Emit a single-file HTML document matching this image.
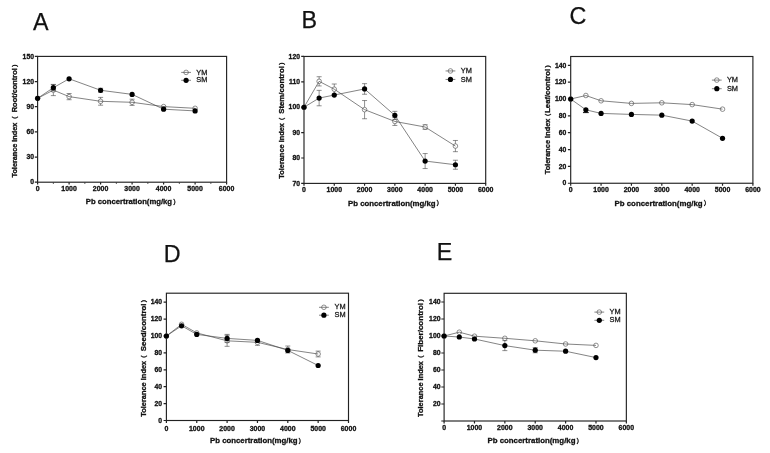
<!DOCTYPE html>
<html lang="en">
<head>
<meta charset="utf-8">
<title>Tolerance index vs Pb concentration</title>
<style>
html,body{margin:0;padding:0;background:#fff;}
body{width:770px;height:453px;overflow:hidden;}
svg{display:block;will-change:transform;filter:blur(.35px);}
text{font-family:"Liberation Sans","Noto Sans CJK SC",sans-serif;fill:#111;}
.ttl{font-size:23.3px;stroke:#111;stroke-width:.25px;}
.tk{font-size:7.6px;font-weight:bold;stroke:#111;stroke-width:.32px;}
.lab{font-weight:bold;stroke:#111;stroke-width:.3px;}
.fp{font-size:6.4px;font-weight:normal;stroke:#111;stroke-width:.4px;fill:#111;}
.lg{font-size:7.4px;fill:#111;stroke:#222;stroke-width:.28px;}
.frame{fill:none;stroke:#222;stroke-width:1.15;}
.ax{fill:none;stroke:#222;stroke-width:1.2;}
.axm{fill:none;stroke:#333;stroke-width:.8;}
.ln{fill:none;stroke:#4a4a4a;stroke-width:.68;}
.cap{fill:none;stroke:#111;stroke-width:1;}
.eb{fill:none;stroke:#444;stroke-width:.6;}
.o{fill:#fff;stroke:#5c5c5c;stroke-width:.68;}
.s{fill:#000;stroke:none;}
</style>
</head>
<body>
<svg width="770" height="453" viewBox="0 0 770 453">
<rect x="0" y="0" width="770" height="453" fill="#fff"/>
<g class="panel">
<text class="ttl" x="33.1" y="29.8">A</text>
<rect class="frame" x="37.6" y="56.4" width="189" height="125.8"/>
<text class="tk" text-anchor="end" transform="translate(34 184.4) scale(.9 1)">0</text>
<text class="tk" text-anchor="end" transform="translate(34 159.24) scale(.9 1)">30</text>
<text class="tk" text-anchor="end" transform="translate(34 134.08) scale(.9 1)">60</text>
<text class="tk" text-anchor="end" transform="translate(34 108.92) scale(.9 1)">90</text>
<text class="tk" text-anchor="end" transform="translate(34 83.76) scale(.9 1)">120</text>
<text class="tk" text-anchor="end" transform="translate(34 58.6) scale(.9 1)">150</text>
<text class="tk" text-anchor="middle" transform="translate(37.6 190.9) scale(.92 1)">0</text>
<text class="tk" text-anchor="middle" transform="translate(69.1 190.9) scale(.92 1)">1000</text>
<text class="tk" text-anchor="middle" transform="translate(100.6 190.9) scale(.92 1)">2000</text>
<text class="tk" text-anchor="middle" transform="translate(132.1 190.9) scale(.92 1)">3000</text>
<text class="tk" text-anchor="middle" transform="translate(163.6 190.9) scale(.92 1)">4000</text>
<text class="tk" text-anchor="middle" transform="translate(195.1 190.9) scale(.92 1)">5000</text>
<text class="tk" text-anchor="middle" transform="translate(226.6 190.9) scale(.92 1)">6000</text>
<path class="ax" d="M34.8 182.2H37.6M34.8 157.04H37.6M34.8 131.88H37.6M34.8 106.72H37.6M34.8 81.56H37.6M34.8 56.4H37.6M37.6 182.2V184.6M69.1 182.2V184.6M100.6 182.2V184.6M132.1 182.2V184.6M163.6 182.2V184.6M195.1 182.2V184.6M226.6 182.2V184.6"/>
<path class="axm" d="M53.35 182.2V184M84.85 182.2V184M116.35 182.2V184M147.85 182.2V184M179.35 182.2V184M210.85 182.2V184"/>
<text class="lab" x="85.76" y="204.1" style="font-size:7.7px">Pb concertration(mg/kg<tspan class="fp" x="173.17" dy="-0.3">）</tspan></text>
<text class="lab" transform="translate(17.3 177.4) rotate(-90)" style="font-size:7.27px"><tspan x="-0.07" y="0">Tolerance Index</tspan><tspan class="fp" x="54.67" y="-0.3">（</tspan><tspan x="63.12" y="0" style="font-size:7.42px"> Root/control</tspan><tspan class="fp" x="110.53" y="-0.3">）</tspan></text>
<path class="eb" d="M53.35 84.61V95.61M50.85 84.61H55.85M50.85 95.61H55.85M69.1 93.51V99.71M66.6 93.51H71.6M66.6 99.71H71.6M100.6 97.4V105.2M98.1 97.4H103.1M98.1 105.2H103.1M132.1 99.2V105.4M129.6 99.2H134.6M129.6 105.4H134.6"/>
<circle class="o" cx="37.6" cy="98.33" r="2.3"/>
<circle class="o" cx="53.35" cy="90.11" r="2.3"/>
<circle class="o" cx="69.1" cy="96.61" r="2.3"/>
<circle class="o" cx="100.6" cy="101.3" r="2.3"/>
<circle class="o" cx="132.1" cy="102.3" r="2.3"/>
<circle class="o" cx="163.6" cy="106.6" r="2.3"/>
<circle class="o" cx="195.1" cy="108.31" r="2.3"/>
<polyline class="ln" points="37.6,98.33 53.35,90.11 69.1,96.61 100.6,101.3 132.1,102.3 163.6,106.6 195.1,108.31"/>
<path class="eb" d="M53.35 84.41V91.01M50.85 84.41H55.85M50.85 91.01H55.85M100.6 88.28V92.28M98.1 88.28H103.1M98.1 92.28H103.1"/>
<polyline class="ln" points="37.6,98.33 53.35,87.71 69.1,78.79 100.6,90.28 132.1,94.39 163.6,109.2 195.1,110.91"/>
<circle class="s" cx="37.6" cy="98.33" r="2.6"/>
<circle class="s" cx="53.35" cy="87.71" r="2.6"/>
<circle class="s" cx="69.1" cy="78.79" r="2.6"/>
<circle class="s" cx="100.6" cy="90.28" r="2.6"/>
<circle class="s" cx="132.1" cy="94.39" r="2.6"/>
<circle class="s" cx="163.6" cy="109.2" r="2.6"/>
<circle class="s" cx="195.1" cy="110.91" r="2.6"/>
<path class="ln" d="M181.2 80.3H191"/>
<circle class="o" cx="186.1" cy="72.4" r="2.3"/><circle class="s" cx="186.1" cy="80.3" r="2.6"/>
<path class="ln" d="M181.2 72.4H191"/>
<text class="lg" x="196.3" y="74.55">YM</text><text class="lg" x="196.3" y="82.45">SM</text>
</g>
<g class="panel">
<text class="ttl" x="301.4" y="28.2">B</text>
<rect class="frame" x="304" y="56.45" width="181.7" height="126.95"/>
<text class="tk" text-anchor="end" transform="translate(300 185.6) scale(.9 1)">70</text>
<text class="tk" text-anchor="end" transform="translate(300 160.21) scale(.9 1)">80</text>
<text class="tk" text-anchor="end" transform="translate(300 134.82) scale(.9 1)">90</text>
<text class="tk" text-anchor="end" transform="translate(300 109.43) scale(.9 1)">100</text>
<text class="tk" text-anchor="end" transform="translate(300 84.04) scale(.9 1)">110</text>
<text class="tk" text-anchor="end" transform="translate(300 58.65) scale(.9 1)">120</text>
<text class="tk" text-anchor="middle" transform="translate(304 192.45) scale(.92 1)">0</text>
<text class="tk" text-anchor="middle" transform="translate(334.28 192.45) scale(.92 1)">1000</text>
<text class="tk" text-anchor="middle" transform="translate(364.57 192.45) scale(.92 1)">2000</text>
<text class="tk" text-anchor="middle" transform="translate(394.85 192.45) scale(.92 1)">3000</text>
<text class="tk" text-anchor="middle" transform="translate(425.13 192.45) scale(.92 1)">4000</text>
<text class="tk" text-anchor="middle" transform="translate(455.42 192.45) scale(.92 1)">5000</text>
<text class="tk" text-anchor="middle" transform="translate(485.7 192.45) scale(.92 1)">6000</text>
<path class="ax" d="M301.2 183.4H304M301.2 158.01H304M301.2 132.62H304M301.2 107.23H304M301.2 81.84H304M301.2 56.45H304M304 183.4V185.8M334.28 183.4V185.8M364.57 183.4V185.8M394.85 183.4V185.8M425.13 183.4V185.8M455.42 183.4V185.8M485.7 183.4V185.8"/>
<text class="lab" x="348.05" y="205.6" style="font-size:7.8px">Pb concertration(mg/kg<tspan class="fp" x="436.58" dy="-0.3">）</tspan></text>
<text class="lab" transform="translate(283.9 178.7) rotate(-90)" style="font-size:7.4px"><tspan x="-0.07" y="0">Tolerance Index</tspan><tspan class="fp" x="54.72" y="-0.3">（</tspan><tspan x="62.8" y="0" style="font-size:7.79px"> Stem/control</tspan><tspan class="fp" x="113.78" y="-0.3">）</tspan></text>
<path class="eb" d="M319.14 76.73V85.93M316.64 76.73H321.64M316.64 85.93H321.64M334.28 84V94.4M331.78 84H336.78M331.78 94.4H336.78M364.57 100.54V118.74M362.07 100.54H367.07M362.07 118.74H367.07M394.85 117.45V125.45M392.35 117.45H397.35M392.35 125.45H397.35M425.13 124.73V129.33M422.63 124.73H427.63M422.63 129.33H427.63M455.42 140.48V151.68M452.92 140.48H457.92M452.92 151.68H457.92"/>
<circle class="o" cx="304" cy="107.23" r="2.3"/>
<circle class="o" cx="319.14" cy="81.33" r="2.3"/>
<circle class="o" cx="334.28" cy="89.2" r="2.3"/>
<circle class="o" cx="364.57" cy="109.64" r="2.3"/>
<circle class="o" cx="394.85" cy="121.45" r="2.3"/>
<circle class="o" cx="425.13" cy="127.03" r="2.3"/>
<circle class="o" cx="455.42" cy="146.08" r="2.3"/>
<polyline class="ln" points="304,107.23 319.14,81.33 334.28,89.2 364.57,109.64 394.85,121.45 425.13,127.03 455.42,146.08"/>
<path class="eb" d="M319.14 90.39V105.79M316.64 90.39H321.64M316.64 105.79H321.64M364.57 83.65V94.25M362.07 83.65H367.07M362.07 94.25H367.07M394.85 111.35V119.35M392.35 111.35H397.35M392.35 119.35H397.35M425.13 153.56V168.56M422.63 153.56H427.63M422.63 168.56H427.63M455.42 160.24V169.24M452.92 160.24H457.92M452.92 169.24H457.92"/>
<polyline class="ln" points="304,107.23 319.14,98.09 334.28,95.04 364.57,88.95 394.85,115.35 425.13,161.06 455.42,164.74"/>
<circle class="s" cx="304" cy="107.23" r="2.6"/>
<circle class="s" cx="319.14" cy="98.09" r="2.6"/>
<circle class="s" cx="334.28" cy="95.04" r="2.6"/>
<circle class="s" cx="364.57" cy="88.95" r="2.6"/>
<circle class="s" cx="394.85" cy="115.35" r="2.6"/>
<circle class="s" cx="425.13" cy="161.06" r="2.6"/>
<circle class="s" cx="455.42" cy="164.74" r="2.6"/>
<path class="ln" d="M445.55 79.45H455.35"/>
<circle class="o" cx="450.45" cy="70.95" r="2.3"/><circle class="s" cx="450.45" cy="79.45" r="2.6"/>
<path class="ln" d="M445.55 70.95H455.35"/>
<text class="lg" x="460.75" y="73.1">YM</text><text class="lg" x="460.75" y="81.6">SM</text>
</g>
<g class="panel">
<text class="ttl" x="569.6" y="23.6">C</text>
<rect class="frame" x="570.7" y="56.5" width="182.2" height="126.75"/>
<text class="tk" text-anchor="end" transform="translate(566.3 185.45) scale(.9 1)">0</text>
<text class="tk" text-anchor="end" transform="translate(566.3 168.6) scale(.9 1)">20</text>
<text class="tk" text-anchor="end" transform="translate(566.3 151.75) scale(.9 1)">40</text>
<text class="tk" text-anchor="end" transform="translate(566.3 134.9) scale(.9 1)">60</text>
<text class="tk" text-anchor="end" transform="translate(566.3 118.05) scale(.9 1)">80</text>
<text class="tk" text-anchor="end" transform="translate(566.3 101.2) scale(.9 1)">100</text>
<text class="tk" text-anchor="end" transform="translate(566.3 84.35) scale(.9 1)">120</text>
<text class="tk" text-anchor="end" transform="translate(566.3 67.5) scale(.9 1)">140</text>
<text class="tk" text-anchor="middle" transform="translate(570.7 191.5) scale(.92 1)">0</text>
<text class="tk" text-anchor="middle" transform="translate(601.07 191.5) scale(.92 1)">1000</text>
<text class="tk" text-anchor="middle" transform="translate(631.43 191.5) scale(.92 1)">2000</text>
<text class="tk" text-anchor="middle" transform="translate(661.8 191.5) scale(.92 1)">3000</text>
<text class="tk" text-anchor="middle" transform="translate(692.17 191.5) scale(.92 1)">4000</text>
<text class="tk" text-anchor="middle" transform="translate(722.53 191.5) scale(.92 1)">5000</text>
<text class="tk" text-anchor="middle" transform="translate(752.9 191.5) scale(.92 1)">6000</text>
<path class="ax" d="M567.9 183.25H570.7M567.9 166.4H570.7M567.9 149.55H570.7M567.9 132.7H570.7M567.9 115.85H570.7M567.9 99H570.7M567.9 82.15H570.7M567.9 65.3H570.7M570.7 183.25V185.65M601.07 183.25V185.65M631.43 183.25V185.65M661.8 183.25V185.65M692.17 183.25V185.65M722.53 183.25V185.65M752.9 183.25V185.65"/>
<text class="lab" x="614.55" y="205.6" style="font-size:7.85px">Pb concertration(mg/kg<tspan class="fp" x="703.64" dy="-0.3">）</tspan></text>
<text class="lab" transform="translate(550 174.2) rotate(-90)" style="font-size:7.38px"><tspan x="-0.07" y="0">Tolerance Index</tspan><tspan class="fp" x="54.32" y="-0.3">（</tspan><tspan x="61.36" y="0" style="font-size:7.69px">Leaf/control</tspan><tspan class="fp" x="106.38" y="-0.3">）</tspan></text>
<circle class="o" cx="570.7" cy="99" r="2.3"/>
<circle class="o" cx="585.88" cy="95.5" r="2.3"/>
<circle class="o" cx="601.07" cy="100.8" r="2.3"/>
<circle class="o" cx="631.43" cy="103.4" r="2.3"/>
<circle class="o" cx="661.8" cy="102.8" r="2.3"/>
<circle class="o" cx="692.17" cy="104.6" r="2.3"/>
<circle class="o" cx="722.53" cy="109.15" r="2.3"/>
<polyline class="ln" points="570.7,99 585.88,95.5 601.07,100.8 631.43,103.4 661.8,102.8 692.17,104.6 722.53,109.15"/>
<path class="cap" d="M582.98 112.6H588.78"/>
<polyline class="ln" points="570.7,99 585.88,109.8 601.07,113.41 631.43,114.42 661.8,115.15 692.17,121.1 722.53,138.3"/>
<circle class="s" cx="570.7" cy="99" r="2.6"/>
<circle class="s" cx="585.88" cy="109.8" r="2.6"/>
<circle class="s" cx="601.07" cy="113.41" r="2.6"/>
<circle class="s" cx="631.43" cy="114.42" r="2.6"/>
<circle class="s" cx="661.8" cy="115.15" r="2.6"/>
<circle class="s" cx="692.17" cy="121.1" r="2.6"/>
<circle class="s" cx="722.53" cy="138.3" r="2.6"/>
<path class="ln" d="M711.9 88.7H721.7"/>
<circle class="o" cx="716.8" cy="80.1" r="2.3"/><circle class="s" cx="716.8" cy="88.7" r="2.6"/>
<path class="ln" d="M711.9 80.1H721.7"/>
<text class="lg" x="726.9" y="82.25">YM</text><text class="lg" x="726.9" y="90.85">SM</text>
</g>
<g class="panel">
<text class="ttl" x="163.8" y="262.2">D</text>
<rect class="frame" x="166.4" y="293.2" width="182.1" height="127.3"/>
<text class="tk" text-anchor="end" transform="translate(162.1 422.7) scale(.9 1)">0</text>
<text class="tk" text-anchor="end" transform="translate(162.1 405.8) scale(.9 1)">20</text>
<text class="tk" text-anchor="end" transform="translate(162.1 388.9) scale(.9 1)">40</text>
<text class="tk" text-anchor="end" transform="translate(162.1 372) scale(.9 1)">60</text>
<text class="tk" text-anchor="end" transform="translate(162.1 355.1) scale(.9 1)">80</text>
<text class="tk" text-anchor="end" transform="translate(162.1 338.2) scale(.9 1)">100</text>
<text class="tk" text-anchor="end" transform="translate(162.1 321.3) scale(.9 1)">120</text>
<text class="tk" text-anchor="end" transform="translate(162.1 304.4) scale(.9 1)">140</text>
<text class="tk" text-anchor="middle" transform="translate(166.4 431.4) scale(.92 1)">0</text>
<text class="tk" text-anchor="middle" transform="translate(196.75 431.4) scale(.92 1)">1000</text>
<text class="tk" text-anchor="middle" transform="translate(227.1 431.4) scale(.92 1)">2000</text>
<text class="tk" text-anchor="middle" transform="translate(257.45 431.4) scale(.92 1)">3000</text>
<text class="tk" text-anchor="middle" transform="translate(287.8 431.4) scale(.92 1)">4000</text>
<text class="tk" text-anchor="middle" transform="translate(318.15 431.4) scale(.92 1)">5000</text>
<text class="tk" text-anchor="middle" transform="translate(348.5 431.4) scale(.92 1)">6000</text>
<path class="ax" d="M163.6 420.5H166.4M163.6 403.6H166.4M163.6 386.7H166.4M163.6 369.8H166.4M163.6 352.9H166.4M163.6 336H166.4M163.6 319.1H166.4M163.6 302.2H166.4M166.4 420.5V422.9M196.75 420.5V422.9M227.1 420.5V422.9M257.45 420.5V422.9M287.8 420.5V422.9M318.15 420.5V422.9M348.5 420.5V422.9"/>
<text class="lab" x="210.05" y="443.3" style="font-size:7.8px">Pb concertration(mg/kg<tspan class="fp" x="298.58" dy="-0.3">）</tspan></text>
<text class="lab" transform="translate(146 416.7) rotate(-90)" style="font-size:7.43px"><tspan x="-0.07" y="0">Tolerance Index</tspan><tspan class="fp" x="55.02" y="-0.3">（</tspan><tspan x="63.27" y="0" style="font-size:7.89px"> Seed/control</tspan><tspan class="fp" x="114.18" y="-0.3">）</tspan></text>
<path class="eb" d="M227.1 335.32V346.32M224.6 335.32H229.6M224.6 346.32H229.6M257.45 339.34V345.34M254.95 339.34H259.95M254.95 345.34H259.95M287.8 346.02V353.02M285.3 346.02H290.3M285.3 353.02H290.3M318.15 351.1V356.9M315.65 351.1H320.65M315.65 356.9H320.65"/>
<circle class="o" cx="166.4" cy="336" r="2.3"/>
<circle class="o" cx="181.58" cy="324.3" r="2.3"/>
<circle class="o" cx="196.75" cy="332.9" r="2.3"/>
<circle class="o" cx="227.1" cy="340.82" r="2.3"/>
<circle class="o" cx="257.45" cy="342.34" r="2.3"/>
<circle class="o" cx="287.8" cy="349.52" r="2.3"/>
<circle class="o" cx="318.15" cy="354" r="2.3"/>
<polyline class="ln" points="166.4,336 181.58,324.3 196.75,332.9 227.1,340.82 257.45,342.34 287.8,349.52 318.15,354"/>
<path class="eb" d="M227.1 334.4V342.4M224.6 334.4H229.6M224.6 342.4H229.6"/>
<polyline class="ln" points="166.4,336 181.58,325.8 196.75,334.39 227.1,338.4 257.45,340.39 287.8,350.4 318.15,365.49"/>
<circle class="s" cx="166.4" cy="336" r="2.6"/>
<circle class="s" cx="181.58" cy="325.8" r="2.6"/>
<circle class="s" cx="196.75" cy="334.39" r="2.6"/>
<circle class="s" cx="227.1" cy="338.4" r="2.6"/>
<circle class="s" cx="257.45" cy="340.39" r="2.6"/>
<circle class="s" cx="287.8" cy="350.4" r="2.6"/>
<circle class="s" cx="318.15" cy="365.49" r="2.6"/>
<path class="ln" d="M319 315.2H328.8"/>
<circle class="o" cx="323.9" cy="307.3" r="2.3"/><circle class="s" cx="323.9" cy="315.2" r="2.6"/>
<path class="ln" d="M319 307.3H328.8"/>
<text class="lg" x="334.6" y="309.45">YM</text><text class="lg" x="334.6" y="317.35">SM</text>
</g>
<g class="panel">
<text class="ttl" x="436.7" y="260.2">E</text>
<rect class="frame" x="444.1" y="293.3" width="182.25" height="127.7"/>
<text class="tk" text-anchor="end" transform="translate(440.5 406.2) scale(.9 1)">20</text>
<text class="tk" text-anchor="end" transform="translate(440.5 389.2) scale(.9 1)">40</text>
<text class="tk" text-anchor="end" transform="translate(440.5 372.2) scale(.9 1)">60</text>
<text class="tk" text-anchor="end" transform="translate(440.5 355.2) scale(.9 1)">80</text>
<text class="tk" text-anchor="end" transform="translate(440.5 338.2) scale(.9 1)">100</text>
<text class="tk" text-anchor="end" transform="translate(440.5 321.2) scale(.9 1)">120</text>
<text class="tk" text-anchor="end" transform="translate(440.5 304.2) scale(.9 1)">140</text>
<text class="tk" text-anchor="middle" transform="translate(444.1 429.9) scale(.92 1)">0</text>
<text class="tk" text-anchor="middle" transform="translate(474.48 429.9) scale(.92 1)">1000</text>
<text class="tk" text-anchor="middle" transform="translate(504.85 429.9) scale(.92 1)">2000</text>
<text class="tk" text-anchor="middle" transform="translate(535.23 429.9) scale(.92 1)">3000</text>
<text class="tk" text-anchor="middle" transform="translate(565.6 429.9) scale(.92 1)">4000</text>
<text class="tk" text-anchor="middle" transform="translate(595.98 429.9) scale(.92 1)">5000</text>
<text class="tk" text-anchor="middle" transform="translate(626.35 429.9) scale(.92 1)">6000</text>
<path class="ax" d="M441.3 421H444.1M441.3 404H444.1M441.3 387H444.1M441.3 370H444.1M441.3 353H444.1M441.3 336H444.1M441.3 319H444.1M441.3 302H444.1M444.1 421V423.4M474.48 421V423.4M504.85 421V423.4M535.23 421V423.4M565.6 421V423.4M595.98 421V423.4M626.35 421V423.4"/>
<text class="lab" x="487.45" y="443.3" style="font-size:7.85px">Pb concertration(mg/kg<tspan class="fp" x="576.54" dy="-0.3">）</tspan></text>
<text class="lab" transform="translate(423.2 416.9) rotate(-90)" style="font-size:7.43px"><tspan x="-0.07" y="0">Tolerance Index</tspan><tspan class="fp" x="55.12" y="-0.3">（</tspan><tspan x="62.82" y="0" style="font-size:8.0px"> Fiber/control</tspan><tspan class="fp" x="115.28" y="-0.3">）</tspan></text>
<circle class="o" cx="444.1" cy="336" r="2.3"/>
<circle class="o" cx="459.29" cy="332.2" r="2.3"/>
<circle class="o" cx="474.48" cy="336.2" r="2.3"/>
<circle class="o" cx="504.85" cy="338.3" r="2.3"/>
<circle class="o" cx="535.23" cy="340.8" r="2.3"/>
<circle class="o" cx="565.6" cy="343.99" r="2.3"/>
<circle class="o" cx="595.98" cy="345.4" r="2.3"/>
<polyline class="ln" points="444.1,336 459.29,332.2 474.48,336.2 504.85,338.3 535.23,340.8 565.6,343.99 595.98,345.4"/>
<path class="eb" d="M504.85 340.61V350.61M502.35 340.61H507.35M502.35 350.61H507.35M535.23 347.59V352.8M532.73 347.59H537.73M532.73 352.8H537.73"/>
<polyline class="ln" points="444.1,336 459.29,337.02 474.48,338.98 504.85,345.61 535.23,350.19 565.6,351.22 595.98,357.59"/>
<circle class="s" cx="444.1" cy="336" r="2.6"/>
<circle class="s" cx="459.29" cy="337.02" r="2.6"/>
<circle class="s" cx="474.48" cy="338.98" r="2.6"/>
<circle class="s" cx="504.85" cy="345.61" r="2.6"/>
<circle class="s" cx="535.23" cy="350.19" r="2.6"/>
<circle class="s" cx="565.6" cy="351.22" r="2.6"/>
<circle class="s" cx="595.98" cy="357.59" r="2.6"/>
<path class="ln" d="M594.4 320.3H604.2"/>
<circle class="o" cx="599.3" cy="312.1" r="2.3"/><circle class="s" cx="599.3" cy="320.3" r="2.6"/>
<path class="ln" d="M594.4 312.1H604.2"/>
<text class="lg" x="609.6" y="314.25">YM</text><text class="lg" x="609.6" y="322.45">SM</text>
</g>
</svg>
</body>
</html>
